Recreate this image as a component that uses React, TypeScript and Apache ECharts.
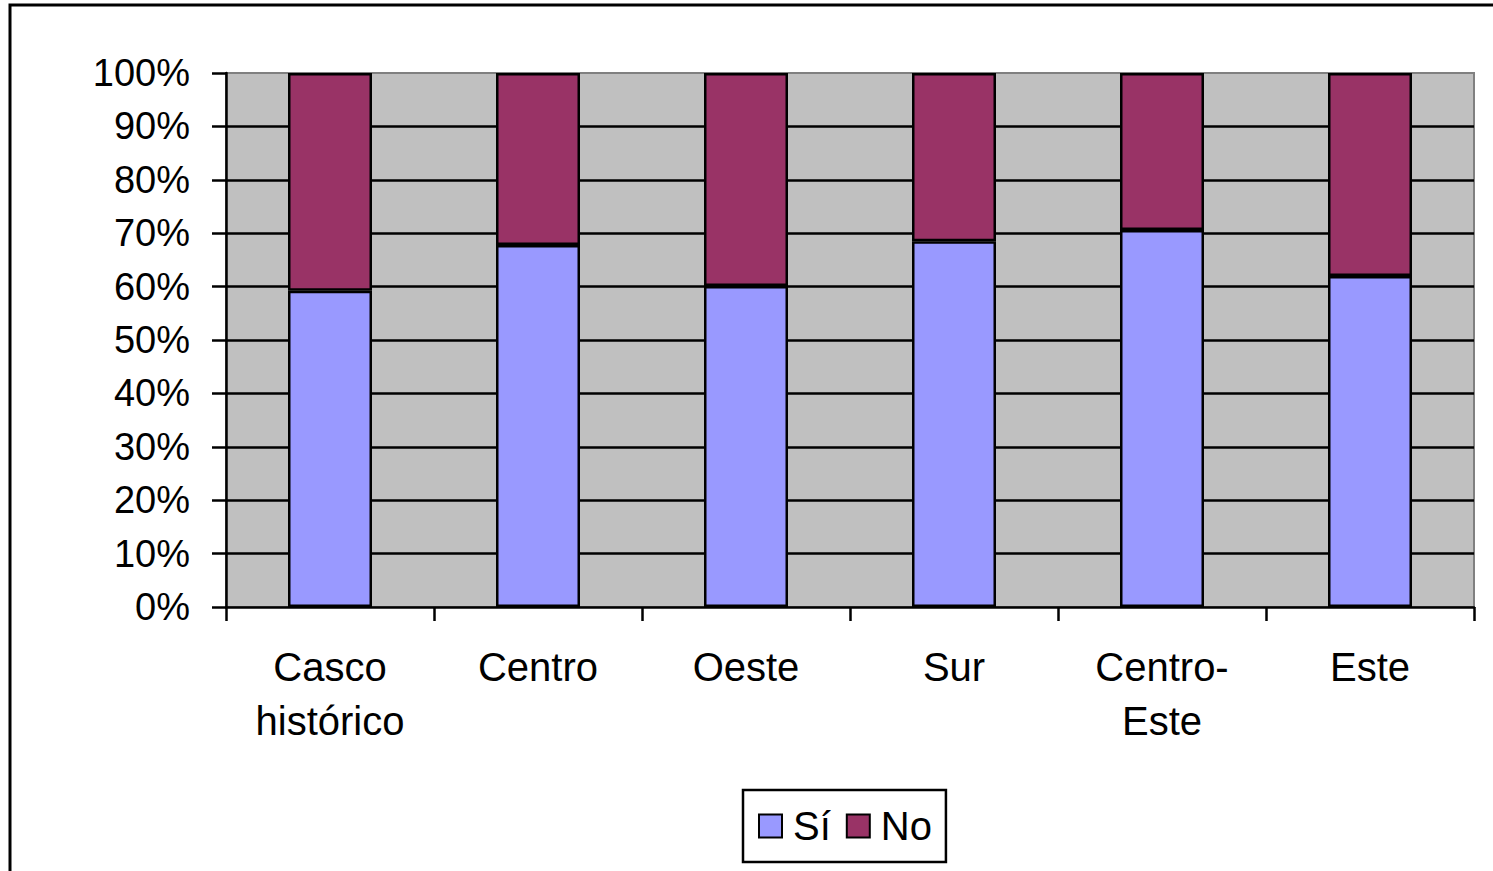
import React, { useEffect, useRef } from "react";
import * as echarts from "echarts";

const categories = ["Casco\nhistórico", "Centro", "Oeste", "Sur", "Centro-\nEste", "Este"];
const siValues = [59.2, 67.8, 60.1, 68.5, 70.6, 62.0];
const noValues = [40.8, 32.2, 39.9, 31.5, 29.4, 38.0];
const seriesNames = ["Sí", "No"];
const FONT = "'Liberation Sans', Arial, sans-serif";

export default function App() {
  const ref = useRef<HTMLDivElement>(null);
  useEffect(() => {
    if (!ref.current) return;
    const chart = echarts.init(ref.current, null, { renderer: "svg" });
    chart.setOption({
      animation: false,
      backgroundColor: "#ffffff",
      textStyle: { fontFamily: FONT },
      graphic: [
        {
          type: "rect",
          shape: { x: 10, y: 5, width: 1500, height: 900 },
          style: { fill: "none", stroke: "#000", lineWidth: 3 },
          z: 100,
        },
      ],
      grid: {
        left: 226,
        top: 73,
        right: 19,
        bottom: 264,
        show: true,
        backgroundColor: "#C0C0C0",
        borderColor: "#808080",
        borderWidth: 2,
      },
      legend: {
        data: seriesNames,
        left: 743,
        top: 790,
        orient: "horizontal",
        padding: [16, 14, 16, 15],
        itemWidth: 23,
        itemHeight: 23,
        itemGap: 15,
        icon: "rect",
        borderColor: "#000",
        borderWidth: 2.5,
        textStyle: { fontSize: 40, fontFamily: FONT, color: "#000", padding: [0, 0, 0, 6] },
      },
      xAxis: {
        type: "category",
        data: categories,
        axisLine: { lineStyle: { color: "#000", width: 2.5 } },
        axisTick: { show: true, length: 14, lineStyle: { color: "#000", width: 2.5 } },
        axisLabel: {
          color: "#000",
          fontSize: 40,
          fontFamily: FONT,
          lineHeight: 54,
          margin: 33,
          interval: 0,
        },
        splitLine: { show: false },
      },
      yAxis: {
        type: "value",
        min: 0,
        max: 100,
        interval: 10,
        axisLine: { show: true, lineStyle: { color: "#000", width: 2.5 } },
        axisTick: { show: true, length: 14, lineStyle: { color: "#000", width: 2.5 } },
        axisLabel: {
          color: "#000",
          fontSize: 38,
          fontFamily: FONT,
          margin: 36,
          formatter: (v: number) => v + "%",
        },
        splitLine: { show: true, showMaxLine: false, showMinLine: false, lineStyle: { color: "#000", width: 2.5 } },
      },
      series: [
        {
          name: seriesNames[0],
          type: "bar",
          stack: "total",
          data: siValues,
          barWidth: 84,
          itemStyle: { color: "#9999FF", borderColor: "#000", borderWidth: 2.5 },
        },
        {
          name: seriesNames[1],
          type: "bar",
          stack: "total",
          data: noValues,
          barWidth: 84,
          itemStyle: { color: "#993366", borderColor: "#000", borderWidth: 2.5 },
        },
      ],
    });
    return () => chart.dispose();
  }, []);
  return (
    <div
      ref={ref}
      style={{ position: "fixed", left: 0, top: 0, width: 1493, height: 871 }}
    />
  );
}
